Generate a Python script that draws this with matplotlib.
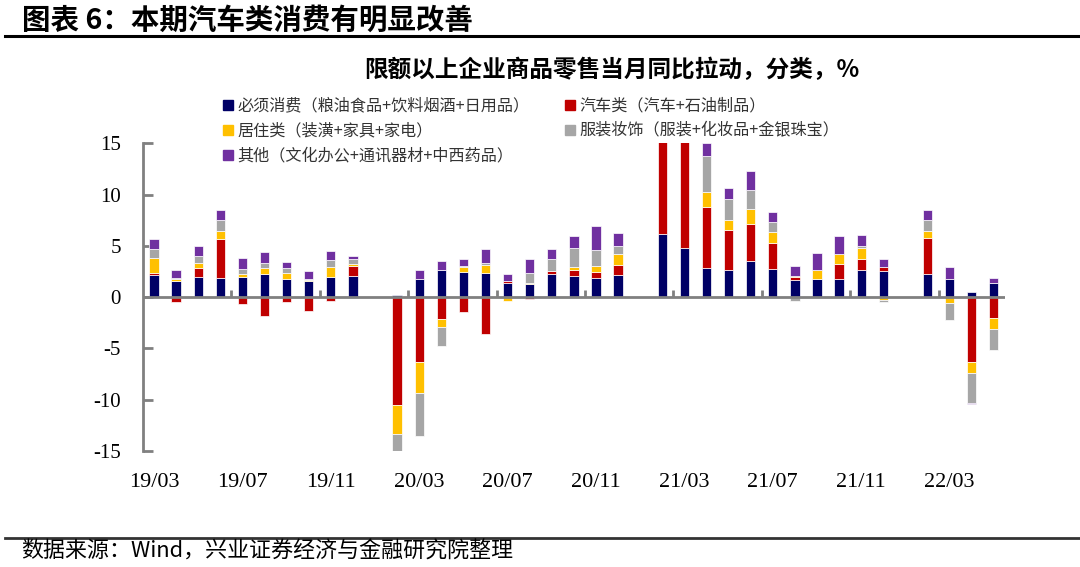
import numpy as np
import matplotlib
matplotlib.use("Agg")
import matplotlib.pyplot as plt
from matplotlib.lines import Line2D

plt.rcParams['font.family'] = ['Noto Sans CJK SC', 'DejaVu Sans']
plt.rcParams['axes.unicode_minus'] = False

nan = np.nan
months = ['19/03', '19/04', '19/05', '19/06', '19/07', '19/08', '19/09', '19/10',
          '19/11', '19/12', '20/01', '20/02', '20/03', '20/04', '20/05', '20/06',
          '20/07', '20/08', '20/09', '20/10', '20/11', '20/12', '21/01', '21/02',
          '21/03', '21/04', '21/05', '21/06', '21/07', '21/08', '21/09', '21/10',
          '21/11', '21/12', '22/01', '22/02', '22/03', '22/04', '22/05']

# 必须消费
necessity = [2.2, 1.55, 1.95, 1.9, 2.0, 2.3, 1.8, 1.55, 2.0, 2.1, nan, 0.25, 1.8,
             2.6, 2.45, 2.4, 1.35, 1.25, 2.25, 2.1, 1.85, 2.2, nan, 6.15, 4.8, 2.8,
             2.65, 3.55, 2.75, 1.7, 1.8, 1.8, 2.6, 2.5, nan, 2.25, 1.8, 0.5, 1.35]
# 汽车类
auto = [0.13, -0.5, 0.9, 3.8, -0.7, -1.8, -0.5, -1.4, -0.35, 0.9, nan, -10.55, -6.3,
        -2.1, -1.45, -3.55, 0.2, -0.2, 0.25, 0.55, 0.6, 0.9, nan, 13.0, 11.5, 5.95,
        3.9, 3.55, 2.5, 0.25, 0.0, 1.45, 1.15, 0.4, nan, 3.5, 0.0, -6.35, -2.0]
# 居住类
housing = [1.5, 0.2, 0.5, 0.75, 0.3, 0.55, 0.6, 0.15, 0.9, 0.2, nan, -2.75, -3.0,
           -0.8, 0.45, 0.75, -0.35, 0.15, 0.0, 0.3, 0.6, 1.15, nan, 0.0, 0.0, 1.5,
           0.95, 1.5, 1.1, 0.15, 0.85, 1.0, 1.0, -0.3, nan, 0.7, -0.6, -1.05, -1.15]
# 服装妆饰
clothing = [0.85, 0.1, 0.7, 1.05, 0.4, 0.5, 0.4, 0.05, 0.7, 0.5, nan, -1.9, -4.2,
            -1.9, 0.1, 0.15, 0.05, 1.0, 1.25, 1.85, 1.5, 0.7, nan, 0.0, 0.0, 3.55,
            2.1, 1.8, 0.95, -0.4, 0.0, 0.0, 0.25, -0.15, nan, 1.1, -1.6, -2.95, -2.05]
# 其他
other = [1.0, 0.8, 0.9, 0.95, 1.07, 1.05, 0.65, 0.8, 0.85, 0.3, nan, 0.0, 0.8,
         0.95, 0.7, 1.35, 0.65, 1.35, 0.9, 1.2, 2.35, 1.3, nan, 0.0, 0.0, 1.2,
         1.0, 1.85, 1.0, 0.9, 1.7, 1.75, 1.05, 0.8, nan, 0.9, 1.1, -0.1, 0.5]

series = [
    ('必须消费（粮油食品+饮料烟酒+日用品）', necessity, '#000066'),
    ('汽车类（汽车+石油制品）', auto, '#C00000'),
    ('居住类（装潢+家具+家电）', housing, '#FFC000'),
    ('服装妆饰（服装+化妆品+金银珠宝）', clothing, '#A6A6A6'),
    ('其他（文化办公+通讯器材+中西药品）', other, '#7030A0'),
]

fig = plt.figure(figsize=(10.8, 5.67), dpi=100)
ax = fig.add_axes([0.1324, 0.2046, 0.798, 0.5427])

x = np.arange(len(months))
pos = np.zeros(len(months))
neg = np.zeros(len(months))
handles = {}
for name, vals, color in series:
    v = np.nan_to_num(np.array(vals, dtype=float))
    b = np.where(v >= 0, pos, neg)
    m = v != 0
    ax.bar(x[m], v[m], bottom=b[m], width=0.42, color=color,
           edgecolor='white', linewidth=0.5, zorder=2)
    pos += np.where(v > 0, v, 0)
    neg += np.where(v < 0, v, 0)
    handles[name] = Line2D([], [], marker='s', linestyle='none', markersize=7,
                           markerfacecolor=color, markeredgecolor=color)

ax.set_xlim(-0.5, len(months) - 0.5)
ax.set_ylim(-15, 15)

# zero line with small ticks between quarters
ax.axhline(0, color='#808080', lw=2, zorder=3)
bounds = np.arange(3.5, len(months) - 1, 4)
ax.vlines(bounds, 0, 0.65, color='#808080', lw=2, zorder=3)

for s in ['top', 'right', 'bottom']:
    ax.spines[s].set_visible(False)
ax.spines['left'].set_color('#808080')
ax.spines['left'].set_linewidth(2)

ax.set_yticks([-15, -10, -5, 0, 5, 10, 15])
ax.tick_params(axis='y', direction='in', length=7, width=2, color='#808080',
               pad=16, labelsize=15)
ax.set_xticks(x[::4])
ax.set_xticklabels(months[::4])
ax.tick_params(axis='x', length=0, pad=16, labelsize=16)
for lab in ax.get_xticklabels() + ax.get_yticklabels():
    lab.set_family('Liberation Serif')

order = [series[0][0], series[2][0], series[4][0], series[1][0], series[3][0]]
leg = ax.legend([handles[n] for n in order], order, ncol=2, frameon=False,
                loc='upper left', bbox_to_anchor=(0.085, 1.17), fontsize=11.6,
                handlelength=0.6, handletextpad=0.3, columnspacing=2.2,
                labelspacing=0.5, borderaxespad=0)
for t in leg.get_texts():
    t.set_color('#333333')

fig.text(0.337, 0.877, '限额以上企业商品零售当月同比拉动，分类，%', fontsize=17,
         fontweight='bold', ha='left', va='center')
fig.text(0.02, 0.963, '图表 6：本期汽车类消费有明显改善', fontsize=20.5,
         fontweight='bold', ha='left', va='center')
fig.add_artist(Line2D([0.005, 1.0], [0.936, 0.936], color='black', lw=2.2))
fig.add_artist(Line2D([0.005, 1.0], [0.052, 0.052], color='#333333', lw=2))
fig.text(0.02, 0.027, '数据来源：Wind，兴业证券经济与金融研究院整理', fontsize=15.8,
         ha='left', va='center')

fig.savefig('out.png', dpi=100)
